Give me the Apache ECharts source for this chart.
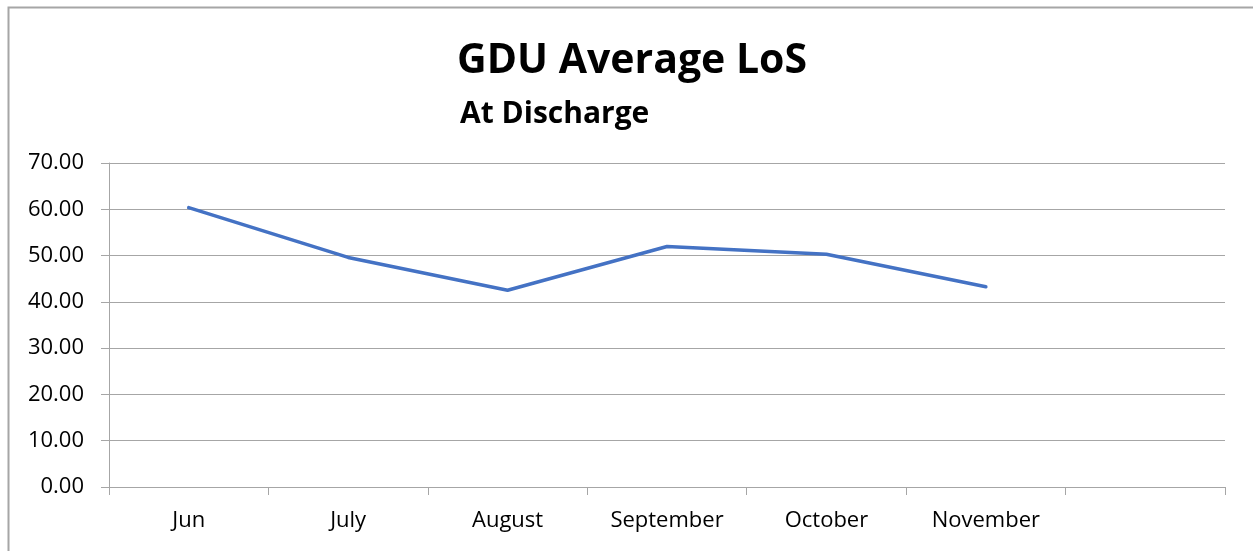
<!DOCTYPE html>
<html>
<head>
<meta charset="utf-8">
<script src="https://cdn.jsdelivr.net/npm/echarts@6/dist/echarts.min.js"></script>
<style>
html,body{margin:0;padding:0;background:#fff;}
#chart{width:1253px;height:551px;}
</style>
</head>
<body>
<div id="chart"></div>
<script>
var titleText = 'GDU Average LoS';
var subtitleText = 'At Discharge';
var categories = ['Jun', 'July', 'August', 'September', 'October', 'November', ''];
var losValues = [60.35, 49.6, 42.5, 51.95, 50.3, 43.25];
var yTicks = { min: 0, max: 70, interval: 10 };

var chart = echarts.init(document.getElementById('chart'));
var font = '"Open Sans", "Liberation Sans", sans-serif';
var gridColor = '#a6a6a6';
chart.setOption({
  animation: false,
  backgroundColor: '#ffffff',
  title: [
    { text: titleText, left: 452, top: 36, textStyle: { fontFamily: font, fontWeight: 'bold', fontSize: 41, color: '#000' } },
    { text: subtitleText, left: 455, top: 94, textStyle: { fontFamily: font, fontWeight: 'bold', fontSize: 30, color: '#000' } }
  ],
  graphic: [{
    type: 'rect', left: 6, top: 5, silent: true,
    shape: { width: 1300, height: 600 },
    style: { fill: 'none', stroke: '#a6a6a6', lineWidth: 2 }
  }],
  grid: { left: 109, right: 28, top: 163, bottom: 64, containLabel: false },
  xAxis: {
    type: 'category',
    data: categories,
    boundaryGap: true,
    axisLine: { show: true, lineStyle: { color: gridColor, width: 1 } },
    axisTick: { show: true, length: 8, alignWithLabel: false, lineStyle: { color: gridColor } },
    axisLabel: { fontFamily: font, fontSize: 22, color: '#000', margin: 23, interval: 0 },
    splitLine: { show: false }
  },
  yAxis: {
    type: 'value',
    min: yTicks.min, max: yTicks.max, interval: yTicks.interval,
    axisLine: { show: true, lineStyle: { color: gridColor, width: 1 } },
    axisTick: { show: true, length: 8, lineStyle: { color: gridColor } },
    axisLabel: { fontFamily: font, fontSize: 22, color: '#000', margin: 25,
      formatter: function (v) { return v.toFixed(2); } },
    splitLine: { show: true, lineStyle: { color: gridColor, width: 1 } }
  },
  series: [{
    type: 'line',
    data: losValues,
    showSymbol: false,
    symbol: 'none',
    lineStyle: { color: '#4472C4', width: 3.5, cap: 'round', join: 'round' }
  }]
});
</script>
</body>
</html>
